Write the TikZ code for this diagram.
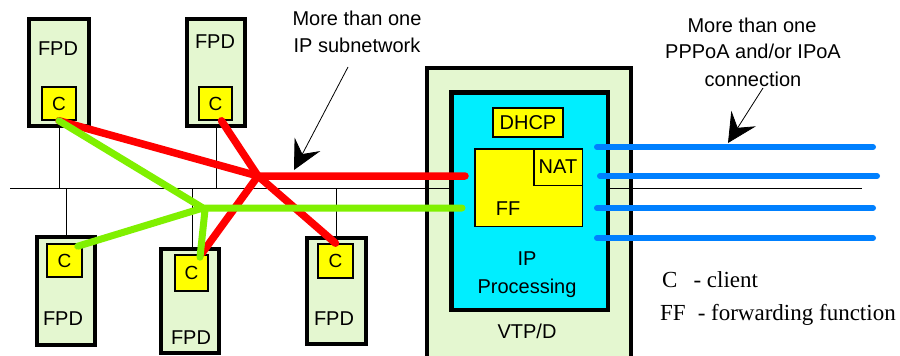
\documentclass[tikz,border=0pt]{standalone}
\usepackage{fontspec}
\newfontfamily\arialf{Liberation Sans}
\newfontfamily\timesf{Liberation Serif}
\usetikzlibrary{arrows.meta,calc}
\definecolor{fpdg}{RGB}{228,247,208}
\definecolor{cy}{RGB}{0,238,255}
\definecolor{yel}{RGB}{255,255,0}
\definecolor{rd}{RGB}{255,0,0}
\definecolor{gr}{RGB}{128,240,0}
\definecolor{bl}{RGB}{0,128,255}
\begin{document}
\begin{tikzpicture}[x=1pt,y=-1pt,
  fpd/.style={draw=black,line width=4.5pt,fill=fpdg,inner sep=0pt},
  cbox/.style={draw=black,line width=1.6pt,fill=yel,inner sep=0pt,font=\arialf\fontsize{19}{22}\selectfont},
  ybox/.style={draw=black,line width=1.6pt,fill=yel,inner sep=0pt,font=\arialf\fontsize{20}{24}\selectfont},
  txt/.style={inner sep=0pt,anchor=base,font=\arialf\fontsize{20}{27}\selectfont},
  lgd/.style={inner sep=0pt,anchor=base west,font=\timesf\fontsize{23}{27}\selectfont},
  busline/.style={line width=1pt,black},
  redl/.style={line width=7.5pt,rd,line cap=round,line join=round},
  grl/.style={line width=7pt,gr,line cap=round,line join=round},
  bll/.style={line width=6pt,bl,line cap=round},
  callout/.style={line width=0.8pt,-{Stealth[length=29pt,width=29pt,inset=11pt]}}
]
\clip (0,0) rectangle (900,356);
\fill[white] (0,0) rectangle (900,356);

% VTP/D outer box
\node[fpd,line width=4pt,minimum width=204pt,minimum height=312pt] (vtp) at (529,224) {};

% bus
\coordinate (busL) at (10,188);
\coordinate (busR) at (862,188);
\draw[busline] (busL) -- (busR);

% IP processing box
\node[draw=black,line width=4.5pt,fill=cy,inner sep=0pt,minimum width=156.5pt,minimum height=217.5pt] (ip) at (529.5,201) {};
\node[ybox,line width=2pt,minimum width=70pt,minimum height=29pt] (dhcp) at (528,122.5) {DHCP};
\node[ybox,line width=1.5pt,minimum width=107.5pt,minimum height=77.5pt] (ff) at (528.5,187.5) {};
\node[ybox,line width=1.5pt,minimum width=48.5pt,minimum height=36.5pt,anchor=north east] (nat) at (ff.north east) {NAT};
\node[txt] (fft) at (508,215) {FF};
\node[txt] (ipt1) at (527,265) {IP};
\node[txt] (ipt2) at (527,293) {Processing};
\node[txt] (vtpt) at (527,338) {VTP/D};

% FPD boxes
\node[fpd,minimum width=60pt,minimum height=107pt] (fpd1) at (59,72.5) {};
\node[fpd,minimum width=58pt,minimum height=107pt] (fpd2) at (216,72.5) {};
\node[fpd,minimum width=58pt,minimum height=108pt] (fpd3) at (66,291) {};
\node[fpd,minimum width=58pt,minimum height=104pt] (fpd4) at (190,301) {};
\node[fpd,minimum width=59pt,minimum height=106pt] (fpd5) at (336.5,291) {};

\node[txt] (fpd1t) at (58,55) {FPD};
\node[txt] (fpd2t) at (215,48) {FPD};
\node[txt] (fpd3t) at (63,325) {FPD};
\node[txt] (fpd4t) at (191,344) {FPD};
\node[txt] (fpd5t) at (334,325) {FPD};

% drops to bus
\draw[busline] (fpd1.south) -- (fpd1.south |- busL);
\draw[busline] (fpd2.south) -- (fpd2.south |- busL);
\draw[busline] (fpd3.north) -- (fpd3.north |- busL);
\draw[busline] ($(fpd4.north)+(2,0)$) -- ($(fpd4.north |- busL)+(2,0)$);
\draw[busline] (fpd5.north) -- (fpd5.north |- busL);

% client boxes
\node[cbox,minimum width=34pt,minimum height=33pt] (c1) at (59,103.5) {C};
\node[cbox,minimum width=33pt,minimum height=33pt] (c2) at (215.5,103.5) {C};
\node[cbox,minimum width=35pt,minimum height=33pt] (c3) at (64.5,260.5) {C};
\node[cbox,minimum width=33pt,minimum height=36pt] (c4) at (191.5,273) {C};
\node[cbox,minimum width=35pt,minimum height=34pt] (c5) at (335.5,261) {C};

% red subnetwork
\coordinate (J) at (258,176);
\coordinate (redEnd) at (465,176);
\draw[redl] (c1.south) -- (J) -- (redEnd);
\draw[redl] ($(c2.south)+(6,0)$) -- (J) -- (c5.north);
\draw[redl] (J) -- ($(c4.north)+(10.5,-1)$);

% green subnetwork
\coordinate (G) at (203,208);
\coordinate (greenEnd) at (462,208);
\draw[grl] (c1.south) -- (G) -- (greenEnd);
\draw[grl] (G) -- ($(c3.north east)+(-5,3)$);
\draw[grl] ($(G)+(2,2)$) -- ($(c4.north)+(8.5,3)$);

% blue connections
\coordinate (b1s) at (597,147); \coordinate (b1e) at (873,147);
\coordinate (b2s) at (600,176); \coordinate (b2e) at (877,176);
\coordinate (b3s) at (597,208); \coordinate (b3e) at (873,208);
\coordinate (b4s) at (597,238); \coordinate (b4e) at (873,238);
\draw[bll] (b1s) -- (b1e);
\draw[bll] (b2s) -- (b2e);
\draw[bll] (b3s) -- (b3e);
\draw[bll] (b4s) -- (b4e);

% callouts
\node[txt] (n1a) at (357,25) {More than one};
\node[txt] (n1b) at (357,52) {IP subnetwork};
\coordinate (a1s) at (348,67);
\coordinate (a1e) at (294,170);
\draw[callout] (a1s) -- (a1e);

\node[txt] (n2a) at (752,32) {More than one};
\node[txt] (n2b) at (753,58) {PPPoA and/or IPoA};
\node[txt] (n2c) at (753,86) {connection};
\coordinate (a2s) at (763,88);
\coordinate (a2e) at (728,143);
\draw[callout] (a2s) -- (a2e);

% legend
\node[lgd] (lg1) at (662,287) {C\hspace{16pt}- client};
\node[lgd] (lg2) at (660,320) {FF\hspace{12pt}- forwarding function};
\end{tikzpicture}
\end{document}
